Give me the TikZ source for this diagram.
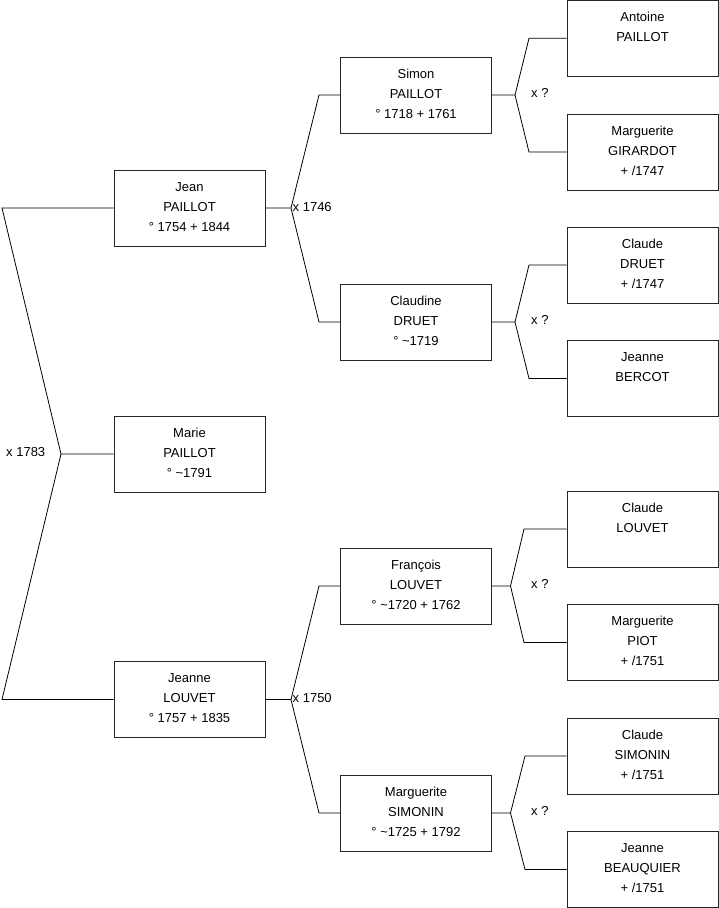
\documentclass[tikz,border=0pt]{standalone}
\usepackage{fontspec}
\setmainfont{Liberation Sans}
\newcommand{\st}{\rule[-7pt]{0pt}{20pt}}
\newcommand{\pl}[3]{\st#1\\\st#2\\\st#3}
\begin{document}
\begin{tikzpicture}[x=1pt,y=-1pt,
  person/.style={draw=black!85,line width=0.8pt,rectangle,minimum width=151pt,minimum height=76pt,inner sep=0pt,align=center,font=\fontsize{13}{20}\selectfont},
  conn/.style={draw=black,line width=0.8pt},
  mlabel/.style={anchor=west,inner sep=0pt,font=\fontsize{13}{15}\selectfont}]
\useasboundingbox (0,0) rectangle (719,908);
% generation 1
\node[person] (jean) at (189.5,208) {\pl{Jean}{PAILLOT}{° 1754 + 1844}};
\node[person] (marie) at (189.5,454) {\pl{Marie}{PAILLOT}{° \textasciitilde1791}};
\node[person] (jeannel) at (189.5,699.5) {\pl{Jeanne}{LOUVET}{° 1757 + 1835}};
% generation 2
\node[person] (simon) at (416,95) {\pl{Simon}{PAILLOT}{° 1718 + 1761}};
\node[person] (claudine) at (416,322) {\pl{Claudine}{DRUET}{° \textasciitilde1719}};
\node[person] (francois) at (416,586) {\pl{François}{LOUVET}{° \textasciitilde1720 + 1762}};
\node[person] (margs) at (416,813) {\pl{Marguerite}{SIMONIN}{° \textasciitilde1725 + 1792}};
% generation 3
\node[person] (antoine) at (642.5,38.3) {\pl{Antoine}{PAILLOT}{}};
\node[person] (margg) at (642.5,152) {\pl{Marguerite}{GIRARDOT}{+ /1747}};
\node[person] (claudedr) at (642.5,265) {\pl{Claude}{DRUET}{+ /1747}};
\node[person] (jeanneb) at (642.5,378.5) {\pl{Jeanne}{BERCOT}{}};
\node[person] (claudel) at (642.5,529) {\pl{Claude}{LOUVET}{}};
\node[person] (margp) at (642.5,642.5) {\pl{Marguerite}{PIOT}{+ /1751}};
\node[person] (claudes) at (642.5,756) {\pl{Claude}{SIMONIN}{+ /1751}};
\node[person] (jeannebq) at (642.5,869.5) {\pl{Jeanne}{BEAUQUIER}{+ /1751}};
% fork points
\coordinate (f1) at (61,454);
\coordinate (f2a) at (291,208);
\coordinate (f2b) at (291,699.5);
\coordinate (f3a) at (515,95);
\coordinate (f3b) at (515,322);
\coordinate (f3c) at (510.5,586);
\coordinate (f3d) at (510.5,813);
% connectors generation 1
\draw[conn] (jean.west) -- (2,208) -- (f1) -- (marie.west);
\draw[conn] (f1) -- (2,699.5) -- (jeannel.west);
% connectors generation 2
\draw[conn] (jean.east) -- (f2a) -- (319,95) -- (simon.west);
\draw[conn] (f2a) -- (319,322) -- (claudine.west);
\draw[conn] (jeannel.east) -- (f2b) -- (319,586) -- (francois.west);
\draw[conn] (f2b) -- (319,813) -- (margs.west);
% connectors generation 3
\draw[conn] (simon.east) -- (f3a) -- (529,38.3) -- (antoine.west);
\draw[conn] (f3a) -- (529,152) -- (margg.west);
\draw[conn] (claudine.east) -- (f3b) -- (529,265) -- (claudedr.west);
\draw[conn] (f3b) -- (529,378.5) -- (jeanneb.west);
\draw[conn] (francois.east) -- (f3c) -- (524,529) -- (claudel.west);
\draw[conn] (f3c) -- (524,642.5) -- (margp.west);
\draw[conn] (margs.east) -- (f3d) -- (525,756) -- (claudes.west);
\draw[conn] (f3d) -- (525,869.5) -- (jeannebq.west);
% marriage labels
\node[mlabel] (m1) at (6,452) {x 1783};
\node[mlabel] (m2) at (292.5,207) {x 1746};
\node[mlabel] (m3) at (292.5,698) {x 1750};
\node[mlabel] (m4) at (531,93) {x ?};
\node[mlabel] (m5) at (531,320) {x ?};
\node[mlabel] (m6) at (531,584) {x ?};
\node[mlabel] (m7) at (531,811) {x ?};
\end{tikzpicture}
\end{document}
